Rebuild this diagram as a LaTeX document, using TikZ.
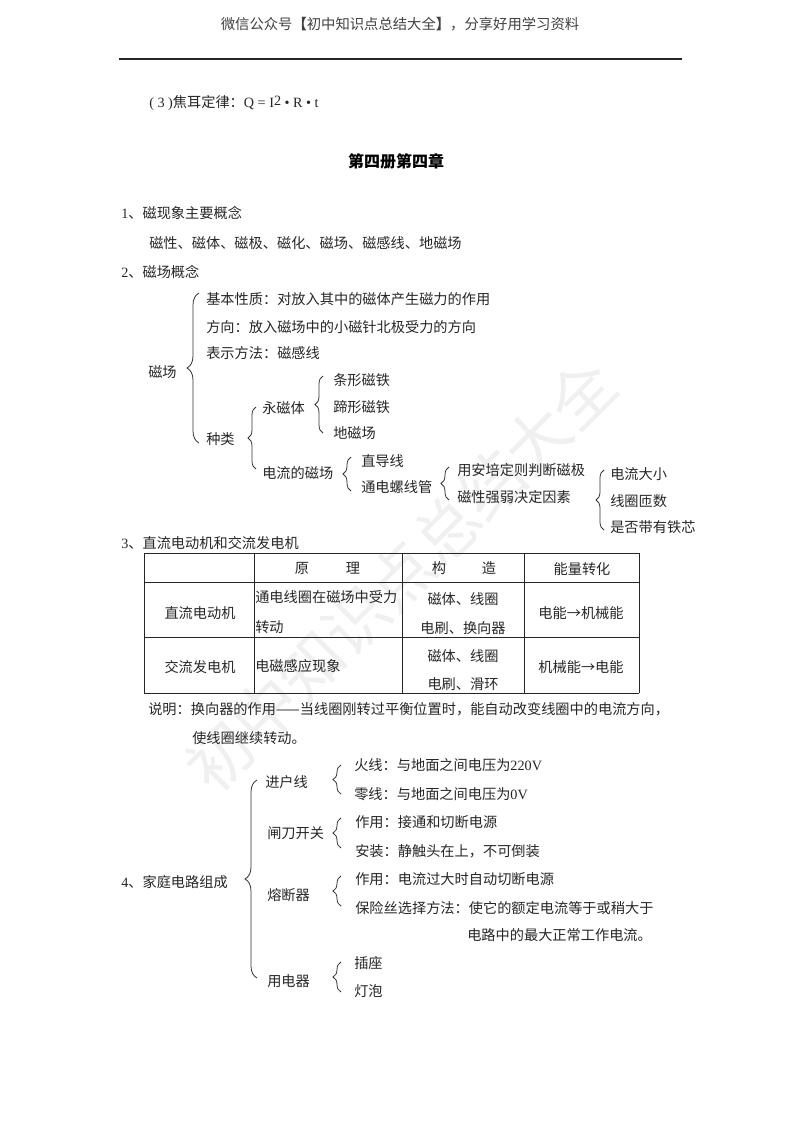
\documentclass[tikz,border=0pt]{standalone}
\usepackage{fontspec}
\setmainfont{Liberation Serif}
\newfontfamily\cjk{Noto Sans CJK SC}
\usetikzlibrary{decorations.pathreplacing}

\begin{document}
\begin{tikzpicture} [
      x = 0.75pt, y = -0.75pt,
      inner sep = 0,
      every node/.style = { black!85, font = \cjk\fontsize{10.65}{12}\selectfont },
      txt/.style = { anchor = west },
      cell/.style = { anchor = center },
      smallbrace/.style = { draw = black!80, line width = 0.6pt, decorate, decoration = {brace, amplitude = 6pt} },
      bigbrace/.style = { draw = black!80, line width = 0.6pt, decorate, decoration = {brace, amplitude = 9pt} },
      tableline/.style = { draw = black!85, line width = 0.7pt }
      ]
      \useasboundingbox (0,0) rectangle (800,1132);

      % watermark
      \node [rotate = 45, black!6, font = \cjk\fontsize{48}{48}\selectfont] (mark) at (401,575) {初中知识点总结大全};

      % header
      \node [black!75, font = \cjk\fontsize{10.75}{12}\selectfont] (head) at (400,24) {微信公众号{\bfseries 【}初中知识点总结大全{\bfseries 】}，分享好用学习资料};
      \coordinate (ruleL) at (119,59);
      \coordinate (ruleR) at (682,59);
      \draw [line width = 1pt, black!85] (ruleL) -- (ruleR);

      \node [txt] (joule) at (149,103) {\textrm{( 3 )}焦耳定律：\textrm{Q = I\raisebox{0.35ex}{2} • R • t}};
      \node [font = \cjk\bfseries\fontsize{12}{14}\selectfont, black] (title) at (396,161) {第四册第四章};

      % 1 and 2
      \node [txt] (one) at (121,213) {\textrm{1}、磁现象主要概念};
      \node [txt] (words) at (149,243) {磁性、磁体、磁极、磁化、磁场、磁感线、地磁场};
      \node [txt] (two) at (121,272) {\textrm{2}、磁场概念};

      \node [txt] (field) at (148,372) {磁场};
      \node [txt] (basic) at (206,299) {基本性质：对放入其中的磁体产生磁力的作用};
      \node [txt] (dir) at (206,327) {方向：放入磁场中的小磁针北极受力的方向};
      \node [txt] (show) at (206,353) {表示方法：磁感线};
      \node [txt] (kind) at (206,439) {种类};
      \node [txt] (perm) at (262,408) {永磁体};
      \node [txt] (bar) at (333,380) {条形磁铁};
      \node [txt] (hoof) at (333,407) {蹄形磁铁};
      \node [txt] (earth) at (333,433) {地磁场};
      \node [txt] (cur) at (262,473) {电流的磁场};
      \node [txt] (wire) at (361,461) {直导线};
      \node [txt] (sol) at (361,487) {通电螺线管};
      \node [txt] (ampere) at (457,470) {用安培定则判断磁极};
      \node [txt] (factor) at (457,497) {磁性强弱决定因素};
      \node [txt] (size) at (610,474) {电流大小};
      \node [txt] (turns) at (610,501) {线圈匝数};
      \node [txt] (iron) at (610,527) {是否带有铁芯};

      \draw [bigbrace] ([shift = {(-7,4)}]kind.west) -- ([shift = {(-7,-6)}]basic.west);
      \draw [smallbrace] ([shift = {(-6,-4)}]cur.west) -- ([shift = {(-6,-1)}]perm.west);
      \draw [smallbrace] ([shift = {(-10,0)}]earth.west) -- ([shift = {(-10,-4)}]bar.west);
      \draw [smallbrace] ([shift = {(-10,4)}]sol.west) -- ([shift = {(-10,-4)}]wire.west);
      \draw [smallbrace] ([shift = {(-8,3)}]factor.west) -- ([shift = {(-8,-3)}]ampere.west);
      \draw [smallbrace] ([shift = {(-6,3)}]iron.west) -- ([shift = {(-6,-4)}]size.west);

      % 3, the table
      \node [txt] (three) at (121,543) {\textrm{3}、直流电动机和交流发电机};
      \foreach \x in {144,254,402,524,639}
        \draw [tableline] (\x,553) -- (\x,693);
      \foreach \y in {553,582,637,693}
        \draw [tableline] (144,\y) -- (639,\y);

      \node [cell] (hA) at (302,568) {原};
      \node [cell] (hB) at (353,568) {理};
      \node [cell] (hC) at (439,568) {构};
      \node [cell] (hD) at (489,568) {造};
      \node [cell] (hE) at (582,569) {能量转化};
      \node [cell] (motor) at (200,613) {直流电动机};
      \node [cell] (gen) at (200,667) {交流发电机};
      \node [txt] (mA) at (255,597) {通电线圈在磁场中受力};
      \node [txt] (mB) at (255,627) {转动};
      \node [txt] (gA) at (255,666) {电磁感应现象};
      \node [cell] (mC) at (463,599) {磁体、线圈};
      \node [cell] (mD) at (463,628) {电刷、换向器};
      \node [cell] (gC) at (463,656) {磁体、线圈};
      \node [cell] (gD) at (463,684) {电刷、滑环};
      \node [cell] (mE) at (581,613) {电能→机械能};
      \node [cell] (gE) at (581,667) {机械能→电能};

      \node [txt] (noteA) at (148,709) {说明：换向器的作用——当线圈刚转过平衡位置时，能自动改变线圈中的电流方向，};
      \node [txt] (noteB) at (192,738) {使线圈继续转动。};

      % 4
      \node [txt] (four) at (121,882) {\textrm{4}、家庭电路组成};
      \node [txt] (inline) at (265,782) {进户线};
      \node [txt] (knife) at (267,833) {闸刀开关};
      \node [txt] (fuse) at (267,895) {熔断器};
      \node [txt] (appl) at (267,981) {用电器};
      \node [txt] (live) at (354,765) {火线：与地面之间电压为\textrm{220V}};
      \node [txt] (zero) at (354,794) {零线：与地面之间电压为\textrm{0V}};
      \node [txt] (kuse) at (355,822) {作用：接通和切断电源};
      \node [txt] (kfit) at (355,851) {安装：静触头在上，不可倒装};
      \node [txt] (fuse1) at (355,879) {作用：电流过大时自动切断电源};
      \node [txt] (fuse2) at (355,908) {保险丝选择方法：使它的额定电流等于或稍大于};
      \node [txt] (fuse3) at (467,935) {电路中的最大正常工作电流。};
      \node [txt] (sock) at (354,963) {插座};
      \node [txt] (bulb) at (354,991) {灯泡};

      \draw [bigbrace] ([shift = {(-10,-3)}]appl.west) -- ([shift = {(-8,-2)}]inline.west);
      \draw [smallbrace] ([shift = {(-13,0)}]zero.west) -- ([shift = {(-13,0)}]live.west);
      \draw [smallbrace] ([shift = {(-14,-3)}]kfit.west) -- ([shift = {(-14,-4)}]kuse.west);
      \draw [smallbrace] ([shift = {(-14,-2)}]fuse2.west) -- ([shift = {(-14,-3)}]fuse1.west);
      \draw [smallbrace] ([shift = {(-13,1)}]bulb.west) -- ([shift = {(-13,-1)}]sock.west);
\end{tikzpicture}
\end{document}
